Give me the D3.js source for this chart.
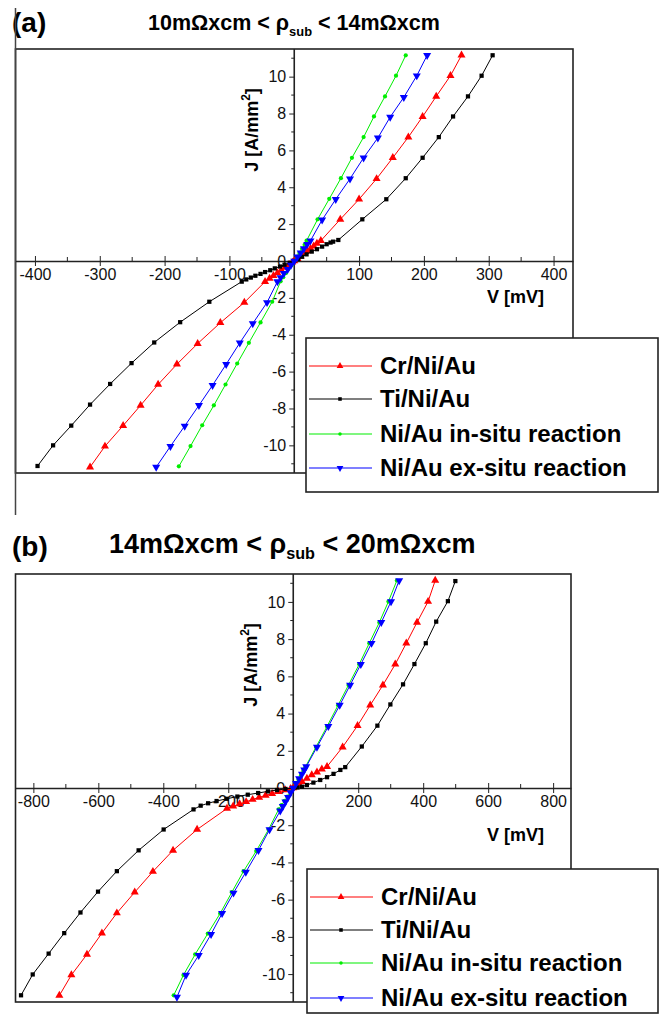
<!DOCTYPE html>
<html>
<head>
<meta charset="utf-8">
<script src="https://cdn.jsdelivr.net/npm/d3@7"></script>
<style>
  body { margin: 0; background: #fff; }
  svg { display: block; font-family: "Liberation Sans", Arial, sans-serif; }
</style>
</head>
<body>
<svg id="fig" width="664" height="1017"></svg>
<script>
// series names, legend order
var seriesNames = ["Cr/Ni/Au", "Ti/Ni/Au", "Ni/Au in-situ reaction", "Ni/Au ex-situ reaction"];

// panel (a): [V mV, J A/mm2]
var aCr = [[-315,-11.18],[-292,-10.05],[-264,-8.93],[-237,-7.83],[-210,-6.70],[-181,-5.60],[-149,-4.48],[-114,-3.35],[-77,-2.25],[-45,-1.12],
  [-38,-0.95],[-32,-0.80],[-26,-0.65],[-20,-0.50],[-14,-0.35],[-8,-0.20],[-3,-0.07],[0,0],
  [5,0.12],[10,0.26],[15,0.40],[20,0.54],[25,0.67],[30,0.80],[35,0.95],[41,1.10],[71,2.26],[100,3.35],[127,4.46],[152,5.60],[176,6.72],[198,7.83],[219,8.93],[241,10.05],[258,11.16]];
var aTi = [[-396,-11.12],[-372,-10.00],[-344,-8.93],[-315,-7.79],[-284,-6.67],[-251,-5.54],[-216,-4.42],[-176,-3.32],[-131,-2.21],[-81,-1.12],
  [-74,-1.00],[-67,-0.90],[-60,-0.80],[-52,-0.70],[-45,-0.60],[-37,-0.50],[-30,-0.40],[-22,-0.30],[-15,-0.20],[-7,-0.10],[0,0],
  [6,0.11],[12,0.23],[19,0.36],[27,0.51],[35,0.64],[43,0.78],[50,0.91],[56,1.00],[60,1.05],[68,1.14],[105,2.26],[142,3.35],[172,4.49],[198,5.60],[223,6.72],[245,7.84],[268,8.93],[289,10.05],[306,11.16]];
var aInSitu = [[-178,-11.14],[-160,-10.04],[-142,-8.91],[-124,-7.83],[-106,-6.70],[-88,-5.56],[-70,-4.44],[-52,-3.33],[-34,-2.21],[-21,-1.10],
  [-17,-0.88],[-13,-0.66],[-9,-0.44],[-4,-0.22],[0,0],[4,0.22],[8,0.44],[12,0.66],[16,0.88],[19,1.10],
  [36,2.26],[54,3.37],[72,4.49],[89,5.60],[107,6.72],[123,7.84],[140,8.93],[157,10.05],[172,11.16]];
var aExSitu = [[-213,-11.18],[-191,-10.05],[-169,-8.95],[-147,-7.83],[-126,-6.74],[-105,-5.60],[-84,-4.44],[-64,-3.39],[-42,-2.25],[-26,-1.12],
  [-21,-0.90],[-16,-0.67],[-10,-0.45],[-5,-0.22],[0,0],[5,0.22],[10,0.45],[15,0.67],[20,0.90],[25,1.10],
  [43,2.23],[64,3.35],[86,4.46],[107,5.60],[129,6.68],[148,7.81],[169,8.88],[189,10.05],[205,11.16]];

// panel (b)
var bCr = [[-720,-11.15],[-683,-10.05],[-635,-8.94],[-589,-7.80],[-543,-6.72],[-488,-5.60],[-432,-4.49],[-370,-3.35],[-296,-2.23],[-204,-1.10],
  [-185,-0.98],[-165,-0.86],[-145,-0.74],[-125,-0.62],[-105,-0.50],[-85,-0.40],[-65,-0.30],[-45,-0.20],[-25,-0.10],[-8,-0.03],[0,0],
  [8,0.08],[18,0.20],[27,0.34],[42,0.52],[57,0.70],[73,0.85],[88,1.01],[104,1.15],[152,2.20],[198,3.35],[237,4.45],[276,5.53],[314,6.65],[348,7.78],[381,8.90],[415,10.02],[437,11.15]];
var bTi = [[-838,-11.14],[-802,-10.02],[-753,-8.90],[-705,-7.80],[-655,-6.69],[-601,-5.57],[-543,-4.47],[-476,-3.35],[-399,-2.23],[-307,-1.15],
  [-285,-0.95],[-262,-0.82],[-236,-0.70],[-205,-0.58],[-172,-0.46],[-140,-0.36],[-108,-0.27],[-78,-0.18],[-50,-0.11],[-24,-0.05],[0,0],
  [13,0.03],[27,0.07],[42,0.16],[62,0.29],[83,0.43],[104,0.58],[124,0.76],[145,0.97],[160,1.12],[211,2.23],[259,3.35],[299,4.49],[338,5.57],[373,6.66],[408,7.78],[440,8.94],[476,10.04],[499,11.12]];
var bInSitu = [[-368,-11.14],[-338,-10.05],[-302,-8.94],[-263,-7.82],[-225,-6.74],[-189,-5.60],[-153,-4.47],[-114,-3.39],[-76,-2.23],[-45,-1.15],
  [-36,-0.92],[-27,-0.69],[-18,-0.46],[-9,-0.23],[0,0],[8,0.23],[16,0.46],[24,0.69],[31,0.92],[37,1.12],
  [70,2.20],[104,3.31],[138,4.45],[170,5.53],[203,6.65],[234,7.78],[265,8.90],[293,10.02],[319,11.15]];
var bExSitu = [[-358,-11.24],[-330,-10.05],[-291,-8.99],[-253,-7.86],[-219,-6.74],[-184,-5.64],[-146,-4.52],[-107,-3.35],[-73,-2.23],[-40,-1.23],
  [-32,-0.98],[-24,-0.74],[-16,-0.50],[-8,-0.25],[0,0],[9,0.25],[18,0.50],[27,0.75],[34,0.98],[40,1.15],
  [73,2.20],[108,3.31],[143,4.45],[175,5.53],[208,6.65],[241,7.78],[271,8.90],[301,10.02],[326,11.15]];

// tick labels
var aTicksV = [-400,-300,-200,-100,100,200,300,400];
var bTicksV = [-800,-600,-400,-200,200,400,600,800];
var ticksJ = [-10,-8,-6,-4,-2,0,2,4,6,8,10];

var colors = ["#ff0000", "#000000", "#00ee00", "#0000ff"];
var symbols = [
  {type: d3.symbolTriangle, size: 28, rot: 0},
  {type: d3.symbolSquare, size: 18, rot: 0},
  {type: d3.symbolCircle, size: 14, rot: 0},
  {type: d3.symbolTriangle, size: 28, rot: 180}
];

var svg = d3.select("#fig");
var fmt = function(d) { return String(d); };

function drawPanel(cfg) {
    var g = svg.append("g");
    var x = d3.scaleLinear().domain(cfg.xDomain).range([cfg.left, cfg.right]);
    var y = d3.scaleLinear().domain([-11.5, 11.5]).range([cfg.bottom, cfg.top]);

    // label + title
    g.append("text").attr("x", 12).attr("y", cfg.labelY)
        .style("font-size", "28px").style("font-weight", "bold").text(cfg.label);
    var t = g.append("text").attr("x", cfg.titleX).attr("y", cfg.titleY)
        .style("font-size", cfg.titleSize + "px").style("font-weight", "bold");
    t.append("tspan").text(cfg.title[0] + " < ρ");
    t.append("tspan").attr("dy", 6).style("font-size", (cfg.titleSize * 0.6) + "px").text("sub");
    t.append("tspan").attr("dy", -6).text(" < " + cfg.title[1]);

    // frame
    g.append("rect").attr("x", cfg.left).attr("y", cfg.top)
        .attr("width", cfg.right - cfg.left).attr("height", cfg.bottom - cfg.top)
        .attr("fill", "none").attr("stroke", "#222").attr("stroke-width", 1.6);
    if (cfg.leftLine)
        g.append("line").attr("x1", cfg.left).attr("x2", cfg.left)
            .attr("y1", cfg.leftLine[0]).attr("y2", cfg.leftLine[1])
            .attr("stroke", "#444").attr("stroke-width", 1.5);

    // x axis through J=0
    var xAxis = d3.axisBottom(x).tickValues(cfg.ticksV).tickFormat(fmt)
        .tickSizeInner(5).tickSizeOuter(0).tickPadding(3);
    var gx = g.append("g").attr("transform", "translate(0," + y(0) + ")").call(xAxis);
    gx.select(".domain").attr("stroke", "#222").attr("stroke-width", 1.6);
    gx.selectAll(".tick line").attr("y1", -5).attr("stroke", "#222");
    gx.selectAll(".tick text").style("font-size", "16px").attr("fill", "#111");
    gx.selectAll(".minor").data(cfg.minorV).enter().append("line")
        .attr("x1", d => x(d)).attr("x2", d => x(d)).attr("y1", -4).attr("y2", 0)
        .attr("stroke", "#222");

    // y axis through V=0
    var yAxis = d3.axisLeft(y).tickValues(ticksJ).tickFormat(fmt)
        .tickSizeInner(5).tickSizeOuter(0).tickPadding(3);
    var gy = g.append("g").attr("transform", "translate(" + x(0) + ",0)").call(yAxis);
    gy.select(".domain").attr("d", "M0," + cfg.top + "V" + cfg.bottom)
        .attr("stroke", "#222").attr("stroke-width", 1.6);
    gy.selectAll(".tick line").attr("stroke", "#222");
    gy.selectAll(".tick text").style("font-size", "16px").attr("fill", "#111");
    gy.selectAll(".minor").data(d3.range(-11, 12, 2)).enter().append("line")
        .attr("x1", -3).attr("x2", 0).attr("y1", d => y(d)).attr("y2", d => y(d))
        .attr("stroke", "#222");

    // axis titles
    g.append("text").attr("x", cfg.vLabel[0]).attr("y", cfg.vLabel[1])
        .style("font-size", "18px").style("font-weight", "bold").text("V [mV]");
    var jl = g.append("text")
        .attr("transform", "translate(" + (x(0) - 36) + "," + cfg.jLabelY + ") rotate(-90)")
        .attr("text-anchor", "middle").style("font-size", "18px").style("font-weight", "bold");
    jl.append("tspan").text("J [A/mm");
    jl.append("tspan").attr("dy", -8).style("font-size", "12px").text("2");
    jl.append("tspan").attr("dy", 8).text("]");

    // series
    var line = d3.line().x(d => x(d[0])).y(d => y(d[1]));
    cfg.series.forEach(function(s, i) {
        g.append("path").attr("d", line(s)).attr("fill", "none")
            .attr("stroke", colors[i]).attr("stroke-width", 1);
        g.selectAll(".pt" + i).data(s).enter().append("path")
            .attr("class", "pt" + i)
            .attr("d", d3.symbol().type(symbols[i].type).size(symbols[i].size))
            .attr("transform", d => "translate(" + x(d[0]) + "," + y(d[1]) + ") rotate(" + symbols[i].rot + ")")
            .attr("fill", colors[i]);
    });

    // legend
    var L = cfg.legend;
    g.append("rect").attr("x", L.x0).attr("y", L.y0)
        .attr("width", L.x1 - L.x0).attr("height", L.y1 - L.y0)
        .attr("fill", "#fff").attr("stroke", "#222").attr("stroke-width", 1.6);
    seriesNames.forEach(function(name, i) {
        var yy = L.rows[i];
        g.append("line").attr("x1", L.x0 + 3).attr("x2", L.x0 + 66)
            .attr("y1", yy).attr("y2", yy).attr("stroke", colors[i]).attr("stroke-width", 1.2);
        g.append("path").attr("d", d3.symbol().type(symbols[i].type).size(symbols[i].size * 0.7))
            .attr("transform", "translate(" + (L.x0 + 34) + "," + yy + ") rotate(" + symbols[i].rot + ")")
            .attr("fill", colors[i]);
        g.append("text").attr("x", L.x0 + 74).attr("y", yy + 8)
            .style("font-size", "24px").style("font-weight", "bold").text(name);
    });
}

drawPanel({
    label: "(a)", labelY: 32, titleX: 148, titleY: 30, titleSize: 21.5,
    title: ["10mΩxcm", "14mΩxcm"],
    left: 15.5, right: 573, top: 49, bottom: 473, xDomain: [-430, 430],
    leftLine: [8, 515],
    ticksV: aTicksV, minorV: [-350,-250,-150,-50,50,150,250,350],
    vLabel: [487, 303], jLabelY: 130,
    series: [aCr, aTi, aInSitu, aExSitu],
    legend: {x0: 306, x1: 658, y0: 338, y1: 492, rows: [366, 399, 434, 468]}
});

drawPanel({
    label: "(b)", labelY: 556, titleX: 109, titleY: 553, titleSize: 27,
    title: ["14mΩxcm", "20mΩxcm"],
    left: 15.5, right: 571, top: 574, bottom: 1002, xDomain: [-855, 855],
    leftLine: null,
    ticksV: bTicksV, minorV: [-700,-500,-300,-100,100,300,500,700],
    vLabel: [487, 841], jLabelY: 665,
    series: [bCr, bTi, bInSitu, bExSitu],
    legend: {x0: 307, x1: 658, y0: 869, y1: 1013, rows: [897, 930, 963, 998]}
});
</script>
</body>
</html>
